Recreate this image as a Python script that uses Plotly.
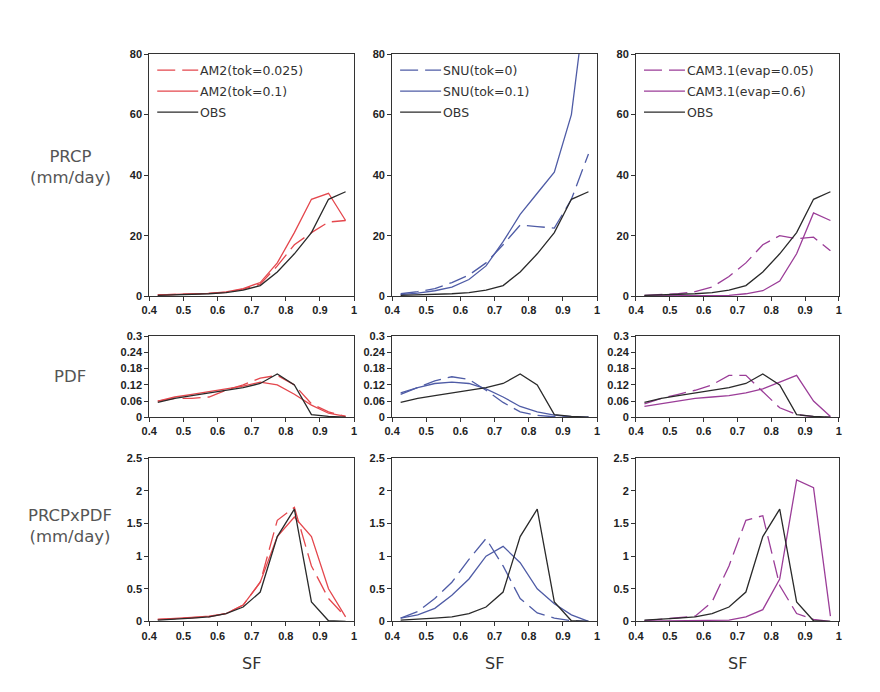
import plotly.graph_objects as go

# ---------------- data ----------------
SF = [0.425, 0.475, 0.525, 0.575, 0.625, 0.675, 0.725, 0.775, 0.825, 0.875, 0.925, 0.975]

# PRCP (mm/day)
prcp_obs      = [0.3, 0.4, 0.6, 0.8, 1.2, 2.0, 3.5, 8.0, 14.0, 21.0, 32.0, 34.5]
prcp_am2_025  = [0.4, 0.5, 0.7, 0.9, 1.3, 2.3, 4.0, 10.0, 17.0, 21.0, 24.5, 25.0]
prcp_am2_1    = [0.4, 0.5, 0.7, 0.9, 1.4, 2.5, 4.5, 11.0, 21.0, 32.0, 34.0, 25.0]
prcp_snu_0    = [0.8, 1.5, 2.5, 4.5, 7.0, 11.0, 17.0, 23.5, 23.0, 22.5, 32.0, 47.0]
prcp_snu_1    = [0.5, 1.0, 1.8, 3.0, 5.5, 10.0, 18.0, 27.0, 34.0, 41.0, 60.0, 105.0]
prcp_cam_005  = [0.3, 0.5, 0.8, 1.5, 3.0, 6.5, 11.0, 17.0, 20.0, 19.0, 19.5, 15.0]
prcp_cam_06   = [0.1, 0.1, 0.1, 0.2, 0.2, 0.3, 0.8, 1.8, 5.0, 14.0, 27.5, 25.0]

# PDF
pdf_obs       = [0.055, 0.07, 0.08, 0.09, 0.10, 0.11, 0.125, 0.16, 0.12, 0.01, 0.003, 0.0]
pdf_am2_025   = [0.06, 0.07, 0.07, 0.075, 0.10, 0.12, 0.145, 0.155, 0.12, 0.05, 0.02, 0.003]
pdf_am2_1     = [0.06, 0.075, 0.085, 0.095, 0.105, 0.115, 0.13, 0.12, 0.085, 0.045, 0.015, 0.003]
pdf_snu_0     = [0.085, 0.11, 0.135, 0.15, 0.14, 0.10, 0.055, 0.02, 0.007, 0.002, 0.0, 0.0]
pdf_snu_1     = [0.09, 0.11, 0.125, 0.13, 0.125, 0.105, 0.075, 0.04, 0.02, 0.008, 0.002, 0.0]
pdf_cam_005   = [0.05, 0.07, 0.085, 0.10, 0.12, 0.155, 0.155, 0.095, 0.035, 0.01, 0.002, 0.0]
pdf_cam_06    = [0.04, 0.05, 0.06, 0.07, 0.075, 0.08, 0.09, 0.105, 0.13, 0.155, 0.06, 0.003]

# PRCP x PDF (mm/day)
pp_obs        = [0.02, 0.03, 0.05, 0.07, 0.12, 0.22, 0.45, 1.3, 1.72, 0.3, 0.01, 0.0]
pp_am2_025    = [0.03, 0.04, 0.05, 0.07, 0.12, 0.25, 0.6, 1.55, 1.75, 0.85, 0.35, 0.07]
pp_am2_1      = [0.03, 0.04, 0.06, 0.08, 0.12, 0.25, 0.6, 1.3, 1.6, 1.3, 0.5, 0.07]
pp_snu_0      = [0.05, 0.15, 0.35, 0.6, 0.95, 1.27, 0.85, 0.35, 0.13, 0.05, 0.01, 0.0]
pp_snu_1      = [0.05, 0.1, 0.2, 0.4, 0.65, 1.0, 1.15, 0.9, 0.5, 0.27, 0.1, 0.0]
pp_cam_005    = [0.01, 0.03, 0.06, 0.08, 0.3, 0.85, 1.55, 1.62, 0.55, 0.12, 0.03, 0.0]
pp_cam_06     = [0.005, 0.01, 0.01, 0.015, 0.02, 0.02, 0.07, 0.18, 0.65, 2.17, 2.05, 0.08]

legend_names = [
    ["AM2(tok=0.025)", "AM2(tok=0.1)", "OBS"],
    ["SNU(tok=0)", "SNU(tok=0.1)", "OBS"],
    ["CAM3.1(evap=0.05)", "CAM3.1(evap=0.6)", "OBS"],
]
row_labels = ["PRCP<br>(mm/day)", "PDF", "PRCPxPDF<br>(mm/day)"]
x_ticks = [0.4, 0.5, 0.6, 0.7, 0.8, 0.9, 1.0]
x_ticklabels = ["0.4", "0.5", "0.6", "0.7", "0.8", "0.9", "1"]
y_ticks = [[0, 20, 40, 60, 80], [0, 0.06, 0.12, 0.18, 0.24, 0.3], [0, 0.5, 1, 1.5, 2, 2.5]]
y_ticklabels = [["0", "20", "40", "60", "80"],
                ["0", "0.06", "0.12", "0.18", "0.24", "0.3"],
                ["0", "0.5", "1", "1.5", "2", "2.5"]]
y_ranges = [[0, 80], [0, 0.3], [0, 2.5]]

data = [
    [(prcp_am2_025, prcp_am2_1, prcp_obs), (prcp_snu_0, prcp_snu_1, prcp_obs), (prcp_cam_005, prcp_cam_06, prcp_obs)],
    [(pdf_am2_025, pdf_am2_1, pdf_obs), (pdf_snu_0, pdf_snu_1, pdf_obs), (pdf_cam_005, pdf_cam_06, pdf_obs)],
    [(pp_am2_025, pp_am2_1, pp_obs), (pp_snu_0, pp_snu_1, pp_obs), (pp_cam_005, pp_cam_06, pp_obs)],
]

# ---------------- layout / style ----------------
W, H = 880, 692
col_px = [(149, 354), (392, 597), (636, 839)]
row_px = [(54, 296), (336, 417), (458, 621)]
model_colors = ["#e4474d", "#4f5ca6", "#9b3d98"]
obs_color = "#2a2a2a"
dash_style = "18px,7px"
axis_color = "#333333"
tick_font = dict(family="Liberation Sans, Arial", size=11, color="#222222", weight="bold")
label_font = dict(family="DejaVu Sans", size=16.5, color="#555555")
leg_font = dict(family="DejaVu Sans", size=12.5, color="#333333")


def px_x(p):
    return ((p - 15.7) / 0.988) / W


def px_y(p):
    return 1 - ((p - 14.0) / 0.982) / H


fig = go.Figure()
layout = dict(width=W, height=H, margin=dict(l=0, r=0, t=0, b=0),
              paper_bgcolor="white", plot_bgcolor="white", showlegend=False)
shapes, annotations = [], []

for r in range(3):
    for c in range(3):
        k = r * 3 + c + 1
        xa = "xaxis" if k == 1 else f"xaxis{k}"
        ya = "yaxis" if k == 1 else f"yaxis{k}"
        xr = "x" if k == 1 else f"x{k}"
        yr = "y" if k == 1 else f"y{k}"
        dashed, solid, obs = data[r][c]
        col = model_colors[c]
        for ys, color, dash, name in [(dashed, col, dash_style, legend_names[c][0]),
                                       (solid, col, "solid", legend_names[c][1]),
                                       (obs, obs_color, "solid", legend_names[c][2])]:
            fig.add_trace(go.Scatter(x=SF, y=ys, mode="lines", name=name,
                                     line=dict(color=color, width=1.3, dash=dash),
                                     xaxis=xr, yaxis=yr, cliponaxis=True))
        x0, x1 = col_px[c]
        y0, y1 = row_px[r]
        layout[xa] = dict(domain=[px_x(x0), px_x(x1)], range=[0.4, 1.0], anchor=yr,
                          tickvals=x_ticks, ticktext=x_ticklabels, ticks="outside",
                          ticklen=4, tickwidth=1, tickcolor=axis_color,
                          showline=True, linecolor=axis_color, linewidth=1, mirror=True,
                          showgrid=False, zeroline=False, tickfont=tick_font)
        layout[ya] = dict(domain=[px_y(y1), px_y(y0)], range=y_ranges[r], anchor=xr,
                          tickvals=y_ticks[r], ticktext=y_ticklabels[r], ticks="outside",
                          ticklen=4, tickwidth=1, tickcolor=axis_color,
                          showline=True, linecolor=axis_color, linewidth=1, mirror=True,
                          showgrid=False, zeroline=False, tickfont=tick_font)

# legends inside top panels
leg_rows = [70, 91, 112]
for c in range(3):
    left = col_px[c][0]
    styles = [(model_colors[c], "dash"), (model_colors[c], "solid"), (obs_color, "solid")]
    for i, (color, dsh) in enumerate(styles):
        y = leg_rows[i]
        shapes.append(dict(type="line", xref="paper", yref="paper",
                           x0=px_x(left + 8), x1=px_x(left + 49), y0=px_y(y), y1=px_y(y),
                           line=dict(color=color, width=1.3, dash=dash_style if dsh == "dash" else "solid")))
        annotations.append(dict(text=legend_names[c][i], xref="paper", yref="paper",
                                x=px_x(left + 49), y=px_y(y), xanchor="left", yanchor="middle",
                                showarrow=False, font=leg_font))

# row labels
row_label_y = [167, 376, 526]
for r in range(3):
    annotations.append(dict(text=row_labels[r], xref="paper", yref="paper", x=px_x(70),
                            y=px_y(row_label_y[r]), xanchor="center", yanchor="middle",
                            showarrow=False, font=label_font))

# SF labels
for c in range(3):
    cx = (col_px[c][0] + col_px[c][1]) / 2
    annotations.append(dict(text="SF", xref="paper", yref="paper", x=px_x(cx), y=px_y(663),
                            xanchor="center", yanchor="middle", showarrow=False,
                            font=dict(family="DejaVu Sans", size=16, color="#333333")))

layout["shapes"] = shapes
layout["annotations"] = annotations
fig.update_layout(**layout)
fig.write_html("out.html")
